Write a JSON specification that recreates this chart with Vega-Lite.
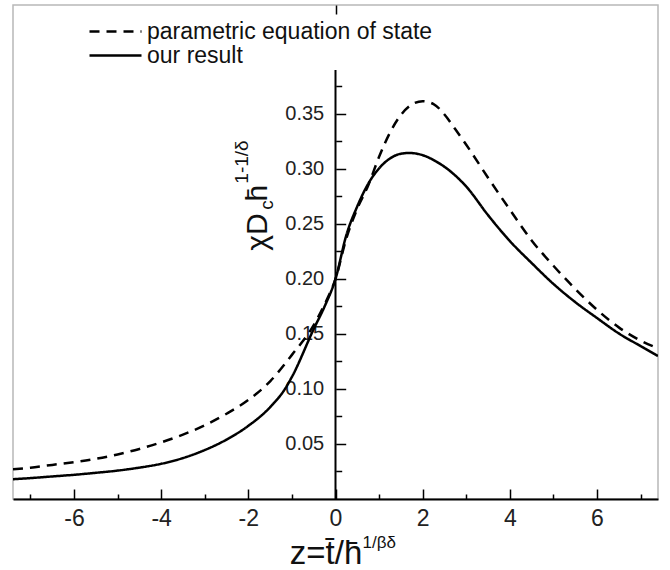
{
  "$schema": "https://vega.github.io/schema/vega-lite/v6.json",
  "width": 645,
  "height": 494,
  "autosize": {"type": "none"},
  "padding": {"left": 13, "top": 5, "right": 12, "bottom": 71},
  "config": {
    "view": {"stroke": "#b8b8b8", "strokeWidth": 1.5},
    "font": "Liberation Sans"
  },
  "resolve": {"axis": {"x": "independent", "y": "independent"}},
  "datasets": {
    "curves": [
      {"series": "parametric equation of state", "z": -7.4, "v": 0.027},
      {"series": "parametric equation of state", "z": -7.0, "v": 0.0285},
      {"series": "parametric equation of state", "z": -6.5, "v": 0.031},
      {"series": "parametric equation of state", "z": -6.0, "v": 0.0335},
      {"series": "parametric equation of state", "z": -5.5, "v": 0.0365},
      {"series": "parametric equation of state", "z": -5.0, "v": 0.0405},
      {"series": "parametric equation of state", "z": -4.5, "v": 0.0455},
      {"series": "parametric equation of state", "z": -4.0, "v": 0.0515},
      {"series": "parametric equation of state", "z": -3.5, "v": 0.0585},
      {"series": "parametric equation of state", "z": -3.0, "v": 0.067},
      {"series": "parametric equation of state", "z": -2.5, "v": 0.0775},
      {"series": "parametric equation of state", "z": -2.0, "v": 0.09},
      {"series": "parametric equation of state", "z": -1.5, "v": 0.107},
      {"series": "parametric equation of state", "z": -1.0, "v": 0.131},
      {"series": "parametric equation of state", "z": -0.5, "v": 0.158},
      {"series": "parametric equation of state", "z": -0.25, "v": 0.177},
      {"series": "parametric equation of state", "z": 0.0, "v": 0.2},
      {"series": "parametric equation of state", "z": 0.25, "v": 0.237},
      {"series": "parametric equation of state", "z": 0.5, "v": 0.264},
      {"series": "parametric equation of state", "z": 0.75, "v": 0.285},
      {"series": "parametric equation of state", "z": 1.0, "v": 0.311},
      {"series": "parametric equation of state", "z": 1.25, "v": 0.333},
      {"series": "parametric equation of state", "z": 1.5, "v": 0.349},
      {"series": "parametric equation of state", "z": 1.75, "v": 0.3585},
      {"series": "parametric equation of state", "z": 2.0, "v": 0.3615},
      {"series": "parametric equation of state", "z": 2.25, "v": 0.359},
      {"series": "parametric equation of state", "z": 2.5, "v": 0.3495},
      {"series": "parametric equation of state", "z": 2.75, "v": 0.336},
      {"series": "parametric equation of state", "z": 3.0, "v": 0.322},
      {"series": "parametric equation of state", "z": 3.5, "v": 0.292},
      {"series": "parametric equation of state", "z": 4.0, "v": 0.263},
      {"series": "parametric equation of state", "z": 4.5, "v": 0.235},
      {"series": "parametric equation of state", "z": 5.0, "v": 0.212},
      {"series": "parametric equation of state", "z": 5.5, "v": 0.191},
      {"series": "parametric equation of state", "z": 6.0, "v": 0.172},
      {"series": "parametric equation of state", "z": 6.5, "v": 0.156},
      {"series": "parametric equation of state", "z": 7.0, "v": 0.144},
      {"series": "parametric equation of state", "z": 7.4, "v": 0.137},
      {"series": "our result", "z": -7.4, "v": 0.018},
      {"series": "our result", "z": -7.0, "v": 0.019},
      {"series": "our result", "z": -6.5, "v": 0.0205},
      {"series": "our result", "z": -6.0, "v": 0.022},
      {"series": "our result", "z": -5.5, "v": 0.0238},
      {"series": "our result", "z": -5.0, "v": 0.0258},
      {"series": "our result", "z": -4.5, "v": 0.0285},
      {"series": "our result", "z": -4.0, "v": 0.032},
      {"series": "our result", "z": -3.5, "v": 0.0372},
      {"series": "our result", "z": -3.0, "v": 0.0445},
      {"series": "our result", "z": -2.5, "v": 0.054},
      {"series": "our result", "z": -2.0, "v": 0.0665},
      {"series": "our result", "z": -1.5, "v": 0.0835},
      {"series": "our result", "z": -1.16, "v": 0.1},
      {"series": "our result", "z": -1.0, "v": 0.111},
      {"series": "our result", "z": -0.5, "v": 0.1545},
      {"series": "our result", "z": -0.25, "v": 0.175},
      {"series": "our result", "z": 0.0, "v": 0.2},
      {"series": "our result", "z": 0.25, "v": 0.24},
      {"series": "our result", "z": 0.5, "v": 0.266},
      {"series": "our result", "z": 0.75, "v": 0.2865},
      {"series": "our result", "z": 1.0, "v": 0.3005},
      {"series": "our result", "z": 1.25, "v": 0.3095},
      {"series": "our result", "z": 1.5, "v": 0.3138},
      {"series": "our result", "z": 1.7, "v": 0.3145},
      {"series": "our result", "z": 2.0, "v": 0.3125},
      {"series": "our result", "z": 2.3, "v": 0.307},
      {"series": "our result", "z": 2.6, "v": 0.299},
      {"series": "our result", "z": 3.0, "v": 0.284},
      {"series": "our result", "z": 3.5, "v": 0.258},
      {"series": "our result", "z": 4.0, "v": 0.2345},
      {"series": "our result", "z": 4.5, "v": 0.2145},
      {"series": "our result", "z": 5.0, "v": 0.1955},
      {"series": "our result", "z": 5.5, "v": 0.179},
      {"series": "our result", "z": 6.0, "v": 0.1645},
      {"series": "our result", "z": 6.5, "v": 0.1505},
      {"series": "our result", "z": 7.0, "v": 0.139},
      {"series": "our result", "z": 7.4, "v": 0.13}
    ]
  },
  "layer": [
    {
      "data": {"name": "curves"},
      "mark": {"type": "line", "color": "black", "strokeWidth": 2.5, "interpolate": "monotone", "clip": true},
      "encoding": {
        "x": {
          "field": "z", "type": "quantitative",
          "scale": {"domain": [-7.4, 7.4], "nice": false, "zero": false},
          "axis": {
            "orient": "bottom", "title": null, "grid": false,
            "values": [-6, -4, -2, 0, 2, 4, 6],
            "labelExpr": "toString(datum.value)",
            "tickSize": -10, "tickColor": "black", "tickWidth": 1.5,
            "domainColor": "black", "domainWidth": 2,
            "labelFont": "Liberation Sans", "labelFontSize": 23, "labelColor": "#222", "labelPadding": 18, "labelFlush": false, "labelOverlap": false
          }
        },
        "y": {
          "field": "v", "type": "quantitative",
          "scale": {"domain": [0, 0.449], "nice": false},
          "axis": {
            "orient": "left", "title": null, "grid": false, "domain": false,
            "offset": -322.7,
            "values": [0.05, 0.1, 0.15, 0.2, 0.25, 0.3, 0.35],
            "format": ".2f",
            "tickSize": -10, "tickColor": "black", "tickWidth": 1.5,
            "labelFont": "Liberation Sans", "labelFontSize": 20, "labelColor": "#222", "labelPadding": 22, "labelFlush": false, "labelOverlap": false
          }
        },
        "strokeDash": {
          "field": "series", "type": "nominal",
          "scale": {"domain": ["parametric equation of state", "our result"], "range": [[10, 7], [1, 0]]},
          "legend": {
            "title": null, "orient": "none", "legendX": 75, "legendY": 15,
            "symbolType": "stroke", "symbolSize": 2704, "symbolStrokeWidth": 2.5, "symbolStrokeColor": "black",
            "labelFont": "Liberation Sans", "labelFontSize": 23, "labelColor": "#111", "labelOffset": 4,
            "labelLimit": 500, "rowPadding": 0, "clipHeight": 23
          }
        }
      }
    },
    {
      "data": {"values": [{}]},
      "mark": {"type": "rule", "color": "black", "strokeWidth": 2},
      "encoding": {
        "x": {
          "datum": 0,
          "axis": {
            "orient": "bottom", "title": null, "grid": false, "domain": false, "labels": false,
            "values": [-7, -5, -3, -1, 1, 3, 5, 7],
            "tickSize": -5, "tickColor": "black", "tickWidth": 1.5
          }
        },
        "y": {
          "datum": 0,
          "axis": {
            "orient": "left", "title": null, "grid": false, "domain": false, "labels": false,
            "offset": -322.7,
            "values": [0.025, 0.075, 0.125, 0.175, 0.225, 0.275, 0.325, 0.375],
            "tickSize": -6, "tickColor": "black", "tickWidth": 1.5
          }
        },
        "y2": {"datum": 0.39}
      }
    },
    {
      "data": {"values": [{}]},
      "mark": {"type": "text", "font": "Liberation Sans", "fontSize": 30, "align": "left", "baseline": "alphabetic", "angle": 270, "clip": false, "color": "#111"},
      "encoding": {
        "x": {
          "datum": -1.58,
          "axis": {
            "orient": "top", "title": null, "grid": false, "domain": false, "labels": false,
            "values": [0], "tickSize": -9, "tickColor": "black", "tickWidth": 1.5
          }
        },
        "y": {"datum": 0.2257, "axis": null},
        "text": {"value": "χD"}
      }
    },
    {
      "data": {"values": [{}]},
      "mark": {"type": "text", "font": "Liberation Sans", "fontSize": 19, "align": "left", "baseline": "alphabetic", "angle": 270, "clip": false, "color": "#111"},
      "encoding": {"x": {"datum": -1.44, "axis": null}, "y": {"datum": 0.263, "axis": null}, "text": {"value": "c"}}
    },
    {
      "data": {"values": [{}]},
      "mark": {"type": "text", "font": "Liberation Sans", "fontSize": 30, "align": "left", "baseline": "alphabetic", "angle": 270, "clip": false, "color": "#111"},
      "encoding": {"x": {"datum": -1.58, "axis": null}, "y": {"datum": 0.2705, "axis": null}, "text": {"value": "h̄"}}
    },
    {
      "data": {"values": [{}]},
      "mark": {"type": "text", "font": "Liberation Sans", "fontSize": 19, "align": "left", "baseline": "alphabetic", "angle": 270, "clip": false, "color": "#111"},
      "encoding": {"x": {"datum": -2.0, "axis": null}, "y": {"datum": 0.2866, "axis": null}, "text": {"value": "1-1/δ"}}
    },
    {
      "data": {"values": [{}]},
      "mark": {"type": "text", "font": "Liberation Sans", "fontSize": 33, "align": "left", "baseline": "alphabetic", "clip": false, "color": "#111"},
      "encoding": {"x": {"datum": -1.048, "axis": null}, "y": {"datum": -0.0588, "axis": null}, "text": {"value": "z=t̄/h̄"}}
    },
    {
      "data": {"values": [{}]},
      "mark": {"type": "text", "font": "Liberation Sans", "fontSize": 17, "align": "left", "baseline": "alphabetic", "clip": false, "color": "#111"},
      "encoding": {"x": {"datum": 0.62, "axis": null}, "y": {"datum": -0.0445, "axis": null}, "text": {"value": "1/βδ"}}
    }
  ]
}
